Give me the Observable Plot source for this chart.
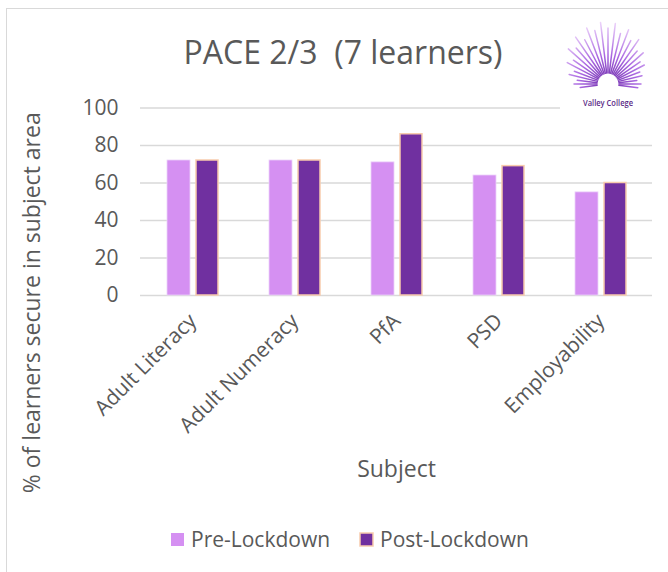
<!DOCTYPE html>
<html>
<head>
<meta charset="utf-8">
<script src="https://cdn.jsdelivr.net/npm/d3@7"></script>
<script src="https://cdn.jsdelivr.net/npm/@observablehq/plot@0.6"></script>
<style>
  body { margin: 0; background: #fff; font-family: "Open Sans", sans-serif; }
  #wrap { position: relative; width: 668px; height: 572px; overflow: hidden; background: #fff; }
  #border { position: absolute; left: 6px; top: 8px; width: 700px; height: 600px;
            border-left: 1.5px solid #d9d9d9; border-top: 1.5px solid #d9d9d9; }
  #chart { position: absolute; left: 0; top: 90px; }
  #overlay { position: absolute; left: 0; top: 0; pointer-events: none; }
</style>
</head>
<body>
<div id="wrap">
  <div id="border"></div>
  <div id="chart"></div>
  <svg id="overlay" width="668" height="572"></svg>
</div>
<script>
// ---- data ----
const subjects = ["Adult Literacy", "Adult Numeracy", "PfA", "PSD", "Employability"];
const preLockdown = [72, 72, 71, 64, 55];
const postLockdown = [72, 72, 86, 69, 60];
const seriesNames = ["Pre-Lockdown", "Post-Lockdown"];
const yTicks = [0, 20, 40, 60, 80, 100];
const titleText = "PACE 2/3  (7 learners)";
const yLabel = "% of learners secure in subject area";
const xLabel = "Subject";

// ---- styles ----
const TEXT = "#595959";
const COLORS = ["#D590F2", "#7030A0"];
const POST_STROKE = "#F8CBAD";
const FONT = '"Open Sans", sans-serif';

const data = subjects.flatMap((s, i) => [
  {subject: s, series: seriesNames[0], value: preLockdown[i]},
  {subject: s, series: seriesNames[1], value: postLockdown[i]}
]);

const chart = Plot.plot({
  width: 668,
  height: 420,
  marginTop: 17.5,
  marginBottom: 215,
  marginLeft: 140,
  marginRight: 16,
  style: {fontFamily: FONT, color: TEXT, background: "transparent", overflow: "visible"},
  x: {domain: subjects, paddingInner: 0.5, paddingOuter: 0.25, label: null},
  y: {domain: [0, 100], label: null},
  color: {domain: seriesNames, range: COLORS},
  marks: [
    Plot.gridY(yTicks, {stroke: "#d9d9d9", strokeOpacity: 1, strokeWidth: 1.5}),
    Plot.barY(data.filter(d => d.series === seriesNames[0]),
      {x: "subject", y: "value", fill: "series", stroke: "#ecd3fa", strokeWidth: 0.8, insetRight: 28}),
    Plot.barY(data.filter(d => d.series === seriesNames[1]),
      {x: "subject", y: "value", fill: "series", stroke: POST_STROKE, strokeWidth: 1.5, insetLeft: 29}),
    Plot.axisY(yTicks, {tickSize: 0, tickPadding: 22, fontSize: 21, label: null, fill: TEXT}),
    Plot.axisX({tickRotate: -45, tickSize: 0, tickPadding: 22, fontSize: 21, label: null, fill: TEXT}),
    Plot.text([yLabel], {frameAnchor: "left", textAnchor: "middle", lineAnchor: "middle", dx: -108, dy: 101, rotate: -90, fontSize: 23, fill: TEXT}),
    Plot.text([xLabel], {frameAnchor: "bottom", textAnchor: "middle", lineAnchor: "middle", dy: 174.5, fontSize: 23, fill: TEXT})
  ]
});
document.getElementById("chart").appendChild(chart);

// ---- overlay: title, logo, legend ----
const ov = d3.select("#overlay");
ov.append("text")
  .attr("x", 343).attr("y", 64)
  .attr("text-anchor", "middle")
  .style("white-space", "pre")
  .attr("font-family", FONT).attr("font-size", 32).attr("fill", TEXT)
  .text(titleText);

// logo (decorative)
const defs = ov.append("defs");
const rg = defs.append("radialGradient").attr("id", "rg")
  .attr("gradientUnits", "userSpaceOnUse").attr("cx", 608).attr("cy", 84).attr("r", 62);
rg.append("stop").attr("offset", "0%").attr("stop-color", "#6a2aa6");
rg.append("stop").attr("offset", "45%").attr("stop-color", "#a865e0");
rg.append("stop").attr("offset", "100%").attr("stop-color", "#ecd2fa");
const logo = ov.append("g");
logo.append("rect").attr("x", 560).attr("y", 16).attr("width", 96).attr("height", 97).attr("fill", "#fff");
const rayLen = [28, 34, 31, 40, 36, 46, 42, 53, 48, 57, 50, 60, 55, 62, 56, 61, 52, 58, 49, 54, 44, 47, 39, 41, 34, 35, 29, 33, 30];
rayLen.forEach((L, i) => {
  const a = (187 - i * (194 / (rayLen.length - 1))) * Math.PI / 180;
  const r0 = 11;
  logo.append("line")
    .attr("x1", 608 + r0 * Math.cos(a)).attr("y1", 84 - r0 * Math.sin(a))
    .attr("x2", 608 + L * Math.cos(a)).attr("y2", 84 - L * Math.sin(a))
    .attr("stroke", "url(#rg)").attr("stroke-width", 1.5).attr("stroke-linecap", "round");
});
logo.append("text").attr("x", 608).attr("y", 106).attr("text-anchor", "middle")
  .attr("font-family", FONT).attr("font-size", 8.5).attr("font-weight", 600)
  .attr("textLength", 50).attr("lengthAdjust", "spacingAndGlyphs")
  .attr("fill", "#5b2a86").text("Valley College");

// legend
const legendX = [171, 360];
seriesNames.forEach((name, i) => {
  ov.append("rect").attr("x", legendX[i]).attr("y", 533).attr("width", 13).attr("height", 13)
    .attr("fill", COLORS[i])
    .attr("stroke", i === 1 ? POST_STROKE : "none").attr("stroke-width", 1.5);
  ov.append("text").attr("x", legendX[i] + 20).attr("y", 547)
    .attr("font-family", FONT).attr("font-size", 21).attr("fill", TEXT).text(name);
});
</script>
</body>
</html>
